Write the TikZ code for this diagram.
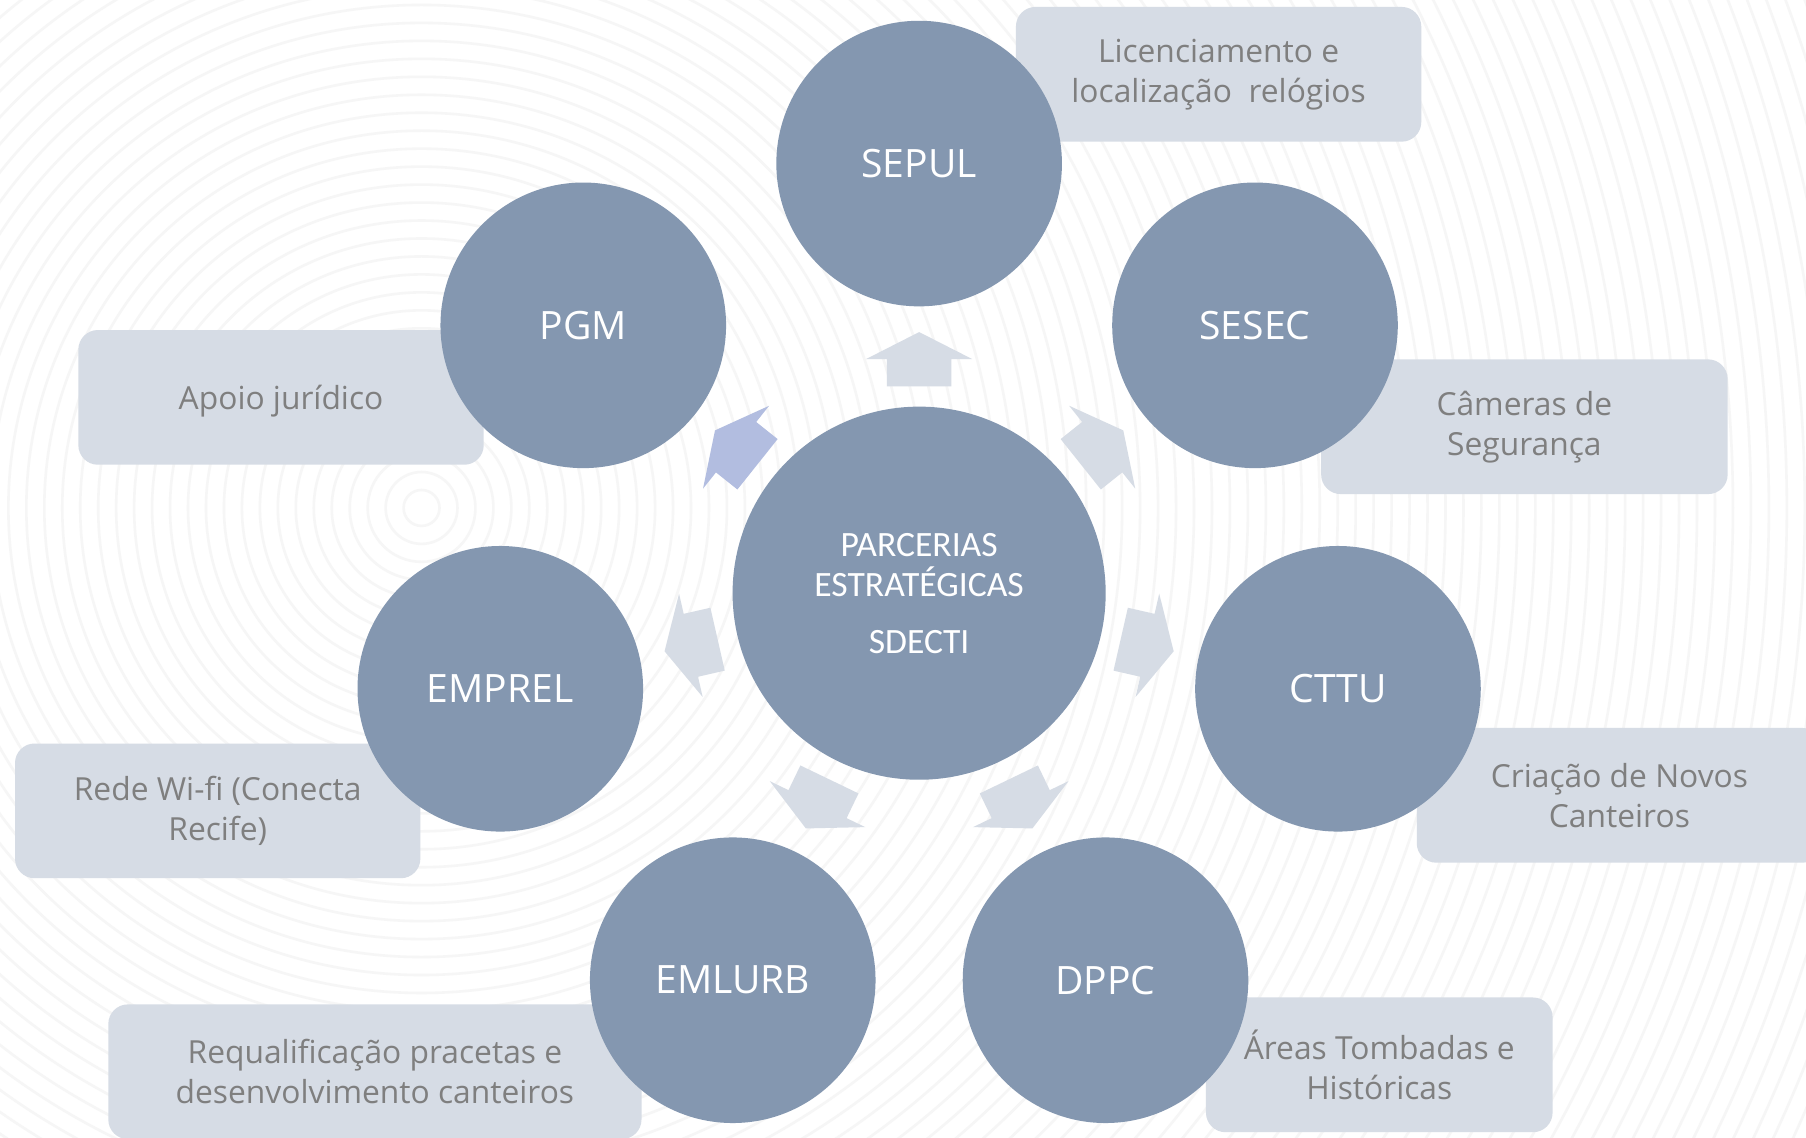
\documentclass[tikz,border=0pt]{standalone}
\usepackage{fontspec}
\setmainfont{Open Sans}
\newfontfamily\carlitofont{Carlito}
\definecolor{circ}{HTML}{8497B0}
\definecolor{boxc}{HTML}{D6DCE5}
\definecolor{arrc}{HTML}{D6DCE5}
\definecolor{arrhl}{HTML}{B2BDE0}
\definecolor{boxtext}{HTML}{7F7F7F}
\definecolor{ringc}{HTML}{F6F6F6}
\begin{document}
\begin{tikzpicture}[x=0.02cm,y=0.02cm,
 sat/.style={circle, fill=circ, minimum size=4.96cm, inner sep=0pt, text=white, font=\fontsize{19.3}{23}\selectfont},
 hub/.style={circle, fill=circ, minimum size=6.48cm, inner sep=0pt, text=white, align=center, font=\carlitofont\fontsize{17.6}{19.8}\selectfont},
 infobox/.style={rounded corners=0.34cm, fill=boxc, minimum height=2.34cm, inner sep=0pt, text=boxtext, align=center, font=\fontsize{15.7}{19.8}\selectfont},
 ring/.style={draw=ringc, line width=0.045cm}]
\useasboundingbox (0,0) rectangle (1568,-988);
\clip (0,0) rectangle (1568,-988);
\fill[white] (0,0) rectangle (1568,-988);
\coordinate (R) at (366,-441);
\foreach \k in {1,...,86} \draw[ring] (R) circle [radius=\k*0.312cm];
% info boxes
\node[infobox, minimum width=7.04cm] (bSEPUL) at (1058,-64.5) {Licenciamento e\\localização~~relógios};
\node[infobox, minimum width=7.06cm] (bSESEC) at (1323.5,-370.5) {Câmeras de\\Segurança};
\node[infobox, minimum width=7.04cm] (bCTTU) at (1406,-690.5) {Criação de Novos\\Canteiros};
\node[infobox, minimum width=6.02cm] (bDPPC) at (1197.5,-924.5) {Áreas Tombadas e\\Históricas};
\node[infobox, minimum width=9.26cm] (bEMLURB) at (325.5,-930.5) {Requalificação pracetas e\\desenvolvimento canteiros};
\node[infobox, minimum width=7.04cm] (bEMPREL) at (189,-704) {Rede Wi-fi (Conecta\\Recife)};
\node[infobox, minimum width=7.04cm, text depth=0pt] (bPGM) at (244,-345) {Apoio jurídico};
% hub
\coordinate (O) at (798,-515);
\node[hub] (hub) at (O) {PARCERIAS\\ESTRATÉGICAS\\[8.3pt]SDECTI};
% block arrows
\foreach \a/\c in {90/arrc, 38.5714/arrc, -12.8571/arrc, -64.2857/arrc, -115.7143/arrc, -167.1429/arrc, 141.4286/arrhl}
  \fill[\c, shift={(hub.center)}, rotate=\a-90] (0,226.7) -- (-46,203.3) -- (-28,203.3) -- (-28,179.5) -- (28,179.5) -- (28,203.3) -- (46,203.3) -- cycle;
% satellites
\node[sat] (SEPUL)  at ([shift={(90:373)}]O) {SEPUL};
\node[sat] (SESEC)  at ([shift={(38.5714:373)}]O) {SESEC};
\node[sat] (CTTU)   at ([shift={(-12.8571:373)}]O) {CTTU};
\node[sat] (DPPC)   at ([shift={(-64.2857:373)}]O) {DPPC};
\node[sat] (EMLURB) at ([shift={(-115.7143:373)}]O) {EMLURB};
\node[sat] (EMPREL) at ([shift={(-167.1429:373)}]O) {EMPREL};
\node[sat] (PGM)    at ([shift={(141.4286:373)}]O) {PGM};
\end{tikzpicture}
\end{document}
